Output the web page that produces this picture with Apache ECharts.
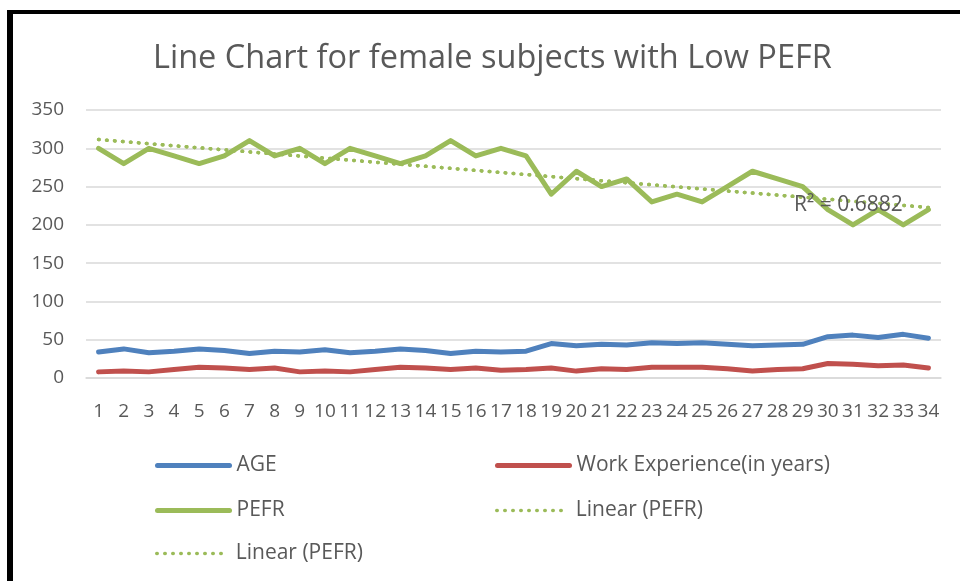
<!DOCTYPE html>
<html>
<head>
<meta charset="utf-8">
<script src="https://cdn.jsdelivr.net/npm/echarts@6/dist/echarts.min.js"></script>
<style>
html,body{margin:0;padding:0;background:#fff;}
#chart{width:960px;height:581px;}
</style>
</head>
<body>
<div id="chart"></div>
<script>
const categories = ['1','2','3','4','5','6','7','8','9','10','11','12','13','14','15','16','17','18','19','20','21','22','23','24','25','26','27','28','29','30','31','32','33','34'];
const ageValues = [34,38,33,35,38,36,32,35,34,37,33,35,38,36,32,35,34,35,45,42,44,43,46,45,46,44,42,43,44,54,56,53,57,52];
const workValues = [8,9,8,11,14,13,11,13,8,9,8,11,14,13,11,13,10,11,13,9,12,11,14,14,14,12,9,11,12,19,18,16,17,13];
const pefrValues = [300,280,300,290,280,290,310,290,300,280,300,290,280,290,310,290,300,290,240,270,250,260,230,240,230,250,270,260,250,220,200,220,200,220];
const yTicks = {min:0, max:350, interval:50};
const rSquaredLabel = 'R² = 0.6882';

// least-squares linear trend of PEFR (as Excel's linear trendline)
function linearTrend(vals){
  const n = vals.length;
  let sx=0, sy=0, sxy=0, sxx=0;
  vals.forEach((v,i)=>{const x=i+1; sx+=x; sy+=v; sxy+=x*v; sxx+=x*x;});
  const b = (n*sxy - sx*sy)/(n*sxx - sx*sx);
  const a = (sy - b*sx)/n;
  return vals.map((v,i)=>+(a+b*(i+1)).toFixed(3));
}
const trend = linearTrend(pefrValues);

const chart = echarts.init(document.getElementById('chart'));
const txt = '#595959';
const font = '"Open Sans", "Noto Sans", sans-serif';
const trendStyle = {color:'#9BBB59', width:3.5, type:[0.5,7.5], cap:'round'};

function legendAt(name, left, top, dotted){
  return {data:[name], left:left, top:top, itemWidth:72, itemHeight:14, itemGap:0,
    itemStyle:{opacity:0},
    lineStyle: dotted ? {width:3.5, type:[0.5,7.5], cap:'round'} : {width:5, cap:'round'},
    textStyle:{color:txt, fontSize:21, fontFamily:font, padding:[0,0,0,2]}, selectedMode:false};
}

chart.setOption({
  animation:false,
  backgroundColor:'#ffffff',
  title:{text:'Line Chart for female subjects with Low PEFR', left:148, top:37,
    textStyle:{color:txt, fontSize:32.5, fontWeight:'normal', fontFamily:font}},
  grid:{left:86, right:19, top:110, bottom:203},
  legend:[
    legendAt('AGE',150,450,false),
    legendAt('Work Experience(in years)',490,450,false),
    legendAt('PEFR',150,495,false),
    legendAt('Linear (PEFR)',490,495,true),
    legendAt('Linear (PEFR) ',150,538,true)
  ],
  xAxis:{type:'category', data:categories, boundaryGap:true,
    axisLine:{show:true, lineStyle:{color:'#D9D9D9', width:1.5}}, axisTick:{show:false},
    axisLabel:{color:txt, fontSize:19, fontFamily:font, margin:24, interval:0}},
  yAxis:{type:'value', min:yTicks.min, max:yTicks.max, interval:yTicks.interval,
    axisLine:{show:false}, axisTick:{show:false},
    axisLabel:{color:txt, fontSize:19, fontFamily:font, margin:22},
    splitLine:{lineStyle:{color:'#D9D9D9', width:1.5}}},
  series:[
    {name:'AGE', type:'line', data:ageValues, symbol:'none', lineStyle:{color:'#4F81BD', width:5, cap:'round', join:'round'}, itemStyle:{color:'#4F81BD'}},
    {name:'Work Experience(in years)', type:'line', data:workValues, symbol:'none', lineStyle:{color:'#C0504D', width:5, cap:'round', join:'round'}, itemStyle:{color:'#C0504D'}},
    {name:'PEFR', type:'line', data:pefrValues, symbol:'none', lineStyle:{color:'#9BBB59', width:5, cap:'round', join:'round'}, itemStyle:{color:'#9BBB59'}},
    {name:'Linear (PEFR)', type:'line', data:trend, symbol:'none', lineStyle:trendStyle, itemStyle:{color:'#9BBB59'}, z:3},
    {name:'Linear (PEFR) ', type:'line', data:trend, symbol:'none', lineStyle:trendStyle, itemStyle:{color:'#9BBB59'}, z:3}
  ],
  graphic:[
    {type:'text', left:794, top:195, z:10, style:{text:rSquaredLabel, fill:txt, fontSize:21, fontFamily:font}},
    {type:'rect', shape:{x:7, y:10, width:6, height:571}, style:{fill:'#000'}},
    {type:'rect', shape:{x:7, y:10, width:953, height:4}, style:{fill:'#000'}}
  ]
});
</script>
</body>
</html>
